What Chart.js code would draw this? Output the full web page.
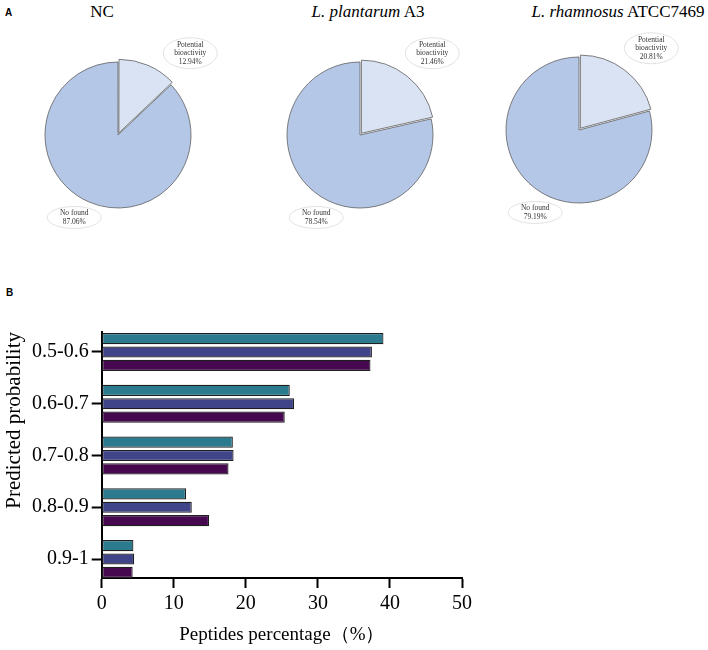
<!DOCTYPE html>
<html>
<head>
<meta charset="utf-8">
<script src="https://cdn.jsdelivr.net/npm/chart.js@4"></script>
<style>
  body { margin: 0; background: #fff; width: 708px; height: 650px; position: relative; overflow: hidden; font-family: "Liberation Serif", "Times New Roman", serif; }
  .panel { position: absolute; font: bold 10px "Liberation Sans", Arial, sans-serif; color: #000; }
  .pie-title { position: absolute; top: 2px; transform: translateX(-50%); font-size: 17px; line-height: 20px; white-space: nowrap; color: #000; }
  canvas { position: absolute; }
</style>
</head>
<body>
<div class="panel" style="left:5px;top:7px">A</div>
<div class="panel" style="left:6px;top:287px">B</div>
<canvas id="bars" width="708" height="360" style="left:0;top:290px"></canvas>

<script>
// ---------------------------------------------------------
// Data
// ---------------------------------------------------------
// panel A: one pie per strain
const strainItalic = ["", "L. plantarum", "L. rhamnosus"];
const strainName = ["NC", "A3", "ATCC7469"];
const sliceNames = [["Potential", "bioactivity"], ["No found"]];
const bioactivePct = [12.94, 21.46, 20.81];
const notFoundPct = [87.06, 78.54, 79.19];

// panel B: predicted probability bins (top to bottom)
const categories = ["0.5-0.6", "0.6-0.7", "0.7-0.8", "0.8-0.9", "0.9-1"];
const ncPct = [39.1, 26.1, 18.2, 11.7, 4.4];
const plantarumPct = [37.5, 26.7, 18.3, 12.5, 4.5];
const rhamnosusPct = [37.3, 25.4, 17.6, 14.9, 4.3];

// ---------------------------------------------------------
// Layout bits (not data)
// ---------------------------------------------------------
const pieCenters = [[118, 135], [360, 135], [579, 130]];
const titleCenters = [102, 368, 618];
const serif = "'Liberation Serif', 'Times New Roman', serif";

// ---------------------------------------------------------
// Callout bubbles next to each slice
// ---------------------------------------------------------
const calloutPlugin = {
  id: "callouts",
  afterDatasetsDraw(chart, args, opts) {
    const ctx = chart.ctx;
    const values = chart.data.datasets[0].data;
    chart.getDatasetMeta(0).data.forEach((arc, i) => {
      const { x, y, outerRadius } = arc.getProps(["x", "y", "outerRadius"], true);
      const [fx, fy] = opts.offsets[i];
      const bx = x + fx * outerRadius;
      const by = y + fy * outerRadius;
      const lines = sliceNames[i].concat(values[i].toFixed(2) + "%");
      const lh = 8.5;

      ctx.save();
      ctx.beginPath();
      ctx.ellipse(bx, by, 27, lines.length * 4.5 + 2, 0, 0, Math.PI * 2);
      ctx.fillStyle = "#fff";
      ctx.fill();
      ctx.strokeStyle = "#e2e2e2";
      ctx.lineWidth = 1;
      ctx.stroke();

      ctx.fillStyle = "#333";
      ctx.font = "7.5px " + serif;
      ctx.textAlign = "center";
      ctx.textBaseline = "middle";
      lines.forEach((t, k) => {
        ctx.fillText(t, bx, by + (k - (lines.length - 1) / 2) * lh);
      });
      ctx.restore();
    });
  }
};

// ---------------------------------------------------------
// Panel A: pies
// ---------------------------------------------------------
strainName.forEach((name, i) => {
  const title = document.createElement("div");
  title.className = "pie-title";
  title.style.left = titleCenters[i] + "px";
  title.innerHTML = strainItalic[i] ? `<i>${strainItalic[i]}</i> ${name}` : name;
  document.body.appendChild(title);

  const cv = document.createElement("canvas");
  cv.width = 236;
  cv.height = 214;
  cv.style.left = (pieCenters[i][0] - 118) + "px";
  cv.style.top = (pieCenters[i][1] - 107) + "px";
  document.body.appendChild(cv);

  new Chart(cv, {
    type: "pie",
    data: {
      labels: sliceNames.map(s => s.join(" ")),
      datasets: [{
        data: [bioactivePct[i], notFoundPct[i]],
        backgroundColor: ["#dae3f3", "#b4c7e7"],
        borderColor: "#5f5f5f",
        borderWidth: 0.8,
        offset: [9, 0]
      }]
    },
    options: {
      responsive: false,
      animation: false,
      radius: 73,
      layout: { padding: 0 },
      plugins: {
        legend: { display: false },
        tooltip: { enabled: false },
        callouts: { offsets: [[0.99, -1.12], [-0.6, 1.13]] }
      }
    },
    plugins: [calloutPlugin]
  });
});

// ---------------------------------------------------------
// Panel B: grouped horizontal bars
// first bin sits at the top, so bin i is placed at n-1-i
// ---------------------------------------------------------
const seriesValues = [ncPct, plantarumPct, rhamnosusPct];
const seriesColors = ["#2b7a8d", "#3f4588", "#46084f"];
const nBins = categories.length;

new Chart(document.getElementById("bars"), {
  type: "bar",
  data: {
    datasets: seriesValues.map((vals, s) => ({
      label: strainName[s],
      data: vals.map((v, i) => ({ x: v, y: nBins - 1 - i })),
      backgroundColor: seriesColors[s],
      borderColor: "#1e1e1e",
      borderWidth: 1.2,
      borderSkipped: false,
      categoryPercentage: 0.775,
      barPercentage: 0.83
    }))
  },
  options: {
    indexAxis: "y",
    responsive: false,
    animation: false,
    layout: { padding: { top: 42, right: 246, left: 0, bottom: 0 } },
    plugins: { legend: { display: false }, tooltip: { enabled: false } },
    scales: {
      x: {
        type: "linear",
        min: 0,
        max: 50,
        ticks: { stepSize: 10, color: "#000", padding: 4, font: { family: serif, size: 20 } },
        grid: { drawOnChartArea: false, tickLength: 10, tickWidth: 2, tickColor: "#000" },
        border: { color: "#000", width: 2 },
        title: { display: true, text: "Peptides percentage（%）", color: "#000", padding: { top: 0, bottom: 4 }, font: { family: serif, size: 19 } },
        afterFit(scale) { scale.height = 72; }
      },
      y: {
        type: "linear",
        offset: false,
        min: -0.367,
        max: 4.386,
        afterBuildTicks(scale) { scale.ticks = categories.map((c, i) => ({ value: nBins - 1 - i })); },
        ticks: { autoSkip: false, color: "#000", padding: 3, font: { family: serif, size: 20 }, callback: v => categories[nBins - 1 - v] },
        grid: { offset: false, drawOnChartArea: false, tickLength: 10, tickWidth: 2, tickColor: "#000" },
        border: { color: "#000", width: 2 },
        title: { display: true, text: "Predicted probability", align: "end", color: "#000", padding: 2, font: { family: serif, size: 21 } },
        afterFit(scale) { scale.width = 101.7; }
      }
    }
  }
});
</script>
</body>
</html>
